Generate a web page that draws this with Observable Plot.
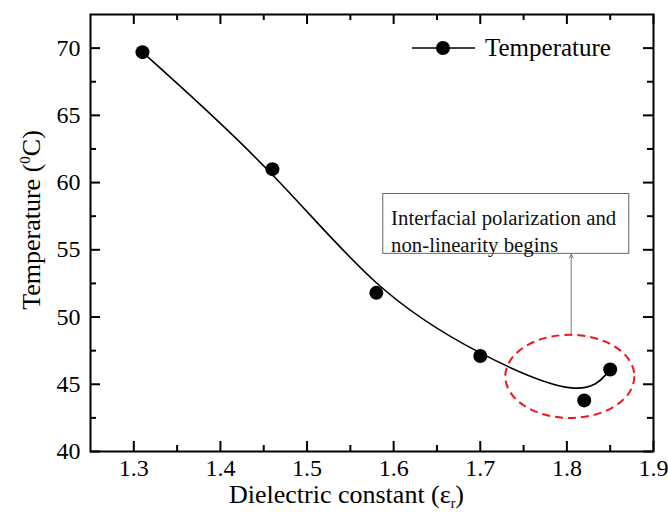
<!DOCTYPE html>
<html>
<head>
<meta charset="utf-8">
<script src="https://cdn.jsdelivr.net/npm/d3@7"></script>
<script src="https://cdn.jsdelivr.net/npm/@observablehq/plot@0.6"></script>
<style>
  html, body { margin: 0; padding: 0; background: #fff; }
  #chart svg { display: block; }
</style>
</head>
<body>
<div id="chart"></div>
<script>
// ---- data ----
const dielectric = [1.31, 1.46, 1.58, 1.70, 1.82, 1.85];
const temperature = [69.7, 61.0, 51.8, 47.1, 43.8, 46.1];
const seriesName = "Temperature";

const xDomain = [1.25, 1.9];
const yDomain = [40, 72.5];
const xTicks = [1.3, 1.4, 1.5, 1.6, 1.7, 1.8, 1.9];
const xMinorTicks = [1.35, 1.45, 1.55, 1.65, 1.75, 1.85];
const yTicks = [40, 45, 50, 55, 60, 65, 70];
const yMinorTicks = [42.5, 47.5, 52.5, 57.5, 62.5, 67.5];

// annotation (data units)
const noteLines = ["Interfacial polarization and", "non-linearity begins"];
const noteBox = [{x1: 1.588, x2: 1.872, y1: 54.7, y2: 59.15}];
const noteTextPos = [{x: 1.597, y: 58.25}];
const noteArrow = [{x1: 1.805, x2: 1.805, y1: 48.65, y2: 54.65}];
const highlight = {cx: 1.804, cy: 45.55, rx: 0.0745, ry: 3.09};

const rows = dielectric.map((x, i) => ({x, y: temperature[i]}));
const serif = "'Liberation Serif', 'Times New Roman', serif";

// layout
const W = 668, H = 512, mL = 90, mR = 15, mT = 14, mB = 61;
const frameW = W - mL - mR, frameH = H - mT - mB;
// tick lengths (pixels) expressed in data units
const yPerPx = (yDomain[1] - yDomain[0]) / frameH;
const xPerPx = (xDomain[1] - xDomain[0]) / frameW;
const tickStyle = {stroke: "black", strokeWidth: 2};
function xTickRules(values, len) {
  return [
    Plot.ruleX(values, {x: d => d, y1: yDomain[0], y2: yDomain[0] + len * yPerPx, ...tickStyle}),
    Plot.ruleX(values, {x: d => d, y1: yDomain[1], y2: yDomain[1] - len * yPerPx, ...tickStyle})
  ];
}
function yTickRules(values, len) {
  return [
    Plot.ruleY(values, {y: d => d, x1: xDomain[0], x2: xDomain[0] + len * xPerPx, ...tickStyle}),
    Plot.ruleY(values, {y: d => d, x1: xDomain[1], x2: xDomain[1] - len * xPerPx, ...tickStyle})
  ];
}

function ellipseMark(index, scales) {
  const cx = scales.x(highlight.cx), cy = scales.y(highlight.cy);
  const rx = scales.x(highlight.cx + highlight.rx) - cx;
  const ry = cy - scales.y(highlight.cy + highlight.ry);
  return d3.create("svg:ellipse")
    .attr("cx", cx).attr("cy", cy).attr("rx", rx).attr("ry", ry)
    .attr("fill", "none").attr("stroke", "#f0141e").attr("stroke-width", 2)
    .attr("stroke-dasharray", "8,5").node();
}

function legendMark(index, scales, values, dims) {
  const right = dims.width - dims.marginRight;
  const y = dims.marginTop + 34;
  const g = d3.create("svg:g");
  g.append("line").attr("x1", right - 241).attr("x2", right - 178)
    .attr("y1", y).attr("y2", y).attr("stroke", "#000").attr("stroke-width", 1.5);
  g.append("circle").attr("cx", right - 210).attr("cy", y).attr("r", 7).attr("fill", "#000");
  g.append("text").attr("x", right - 168).attr("y", y + 8).attr("text-anchor", "start")
    .attr("font-family", serif).attr("font-size", 25).attr("fill", "#000").text(seriesName);
  return g.node();
}

function xTitleMark(index, scales, values, dims) {
  const cx = (dims.marginLeft + dims.width - dims.marginRight) / 2 - 25;
  const t = d3.create("svg:text").attr("x", cx).attr("y", dims.height - 9)
    .attr("text-anchor", "middle").attr("font-family", serif).attr("font-size", 26).attr("fill", "#000");
  t.append("tspan").text("Dielectric constant (ε");
  t.append("tspan").attr("font-size", 14).attr("dy", 5).text("r");
  t.append("tspan").attr("dy", -5).text(")");
  return t.node();
}

function yTitleMark(index, scales, values, dims) {
  const cy = 220;
  const t = d3.create("svg:text").attr("transform", `translate(40,${cy}) rotate(-90)`)
    .attr("text-anchor", "middle").attr("font-family", serif).attr("font-size", 26).attr("fill", "#000");
  t.append("tspan").text("Temperature (");
  t.append("tspan").attr("font-size", 15).attr("dy", -10).text("0");
  t.append("tspan").attr("dy", 10).text("C)");
  return t.node();
}

const chart = Plot.plot({
  width: W,
  height: H,
  marginLeft: mL,
  marginRight: mR,
  marginTop: mT,
  marginBottom: mB,
  style: {fontFamily: serif, fontSize: "24px"},
  x: {domain: xDomain, ticks: xTicks, tickSize: 0, tickPadding: 7, tickFormat: d => d.toFixed(1), label: null},
  y: {domain: yDomain, ticks: yTicks, tickSize: 0, tickPadding: 10, tickFormat: d => String(d), label: null},
  marks: [
    Plot.frame({stroke: "black", strokeWidth: 2}),
    // inward ticks on all four sides
    xTickRules(xTicks, 10),
    xTickRules(xMinorTicks, 6),
    yTickRules(yTicks, 10),
    yTickRules(yMinorTicks, 6),
    // annotation
    Plot.rect(noteBox, {x1: "x1", x2: "x2", y1: "y1", y2: "y2", fill: "#fff", stroke: "#666", strokeWidth: 1}),
    Plot.text(noteTextPos, {x: "x", y: "y", text: () => noteLines.join("\n"), textAnchor: "start", lineAnchor: "top", fontSize: 20.8, lineHeight: 1.3, fill: "#111"}),
    Plot.arrow(noteArrow, {x1: "x1", y1: "y1", x2: "x2", y2: "y2", stroke: "#777", strokeWidth: 1, headLength: 6}),
    ellipseMark,
    // series
    Plot.line(rows, {x: "x", y: "y", curve: "basis", stroke: "#000", strokeWidth: 1.6}),
    Plot.dot(rows, {x: "x", y: "y", r: 7, fill: "#000", stroke: "none"}),
    legendMark,
    xTitleMark,
    yTitleMark
  ]
});

document.getElementById("chart").appendChild(chart);
</script>
</body>
</html>
